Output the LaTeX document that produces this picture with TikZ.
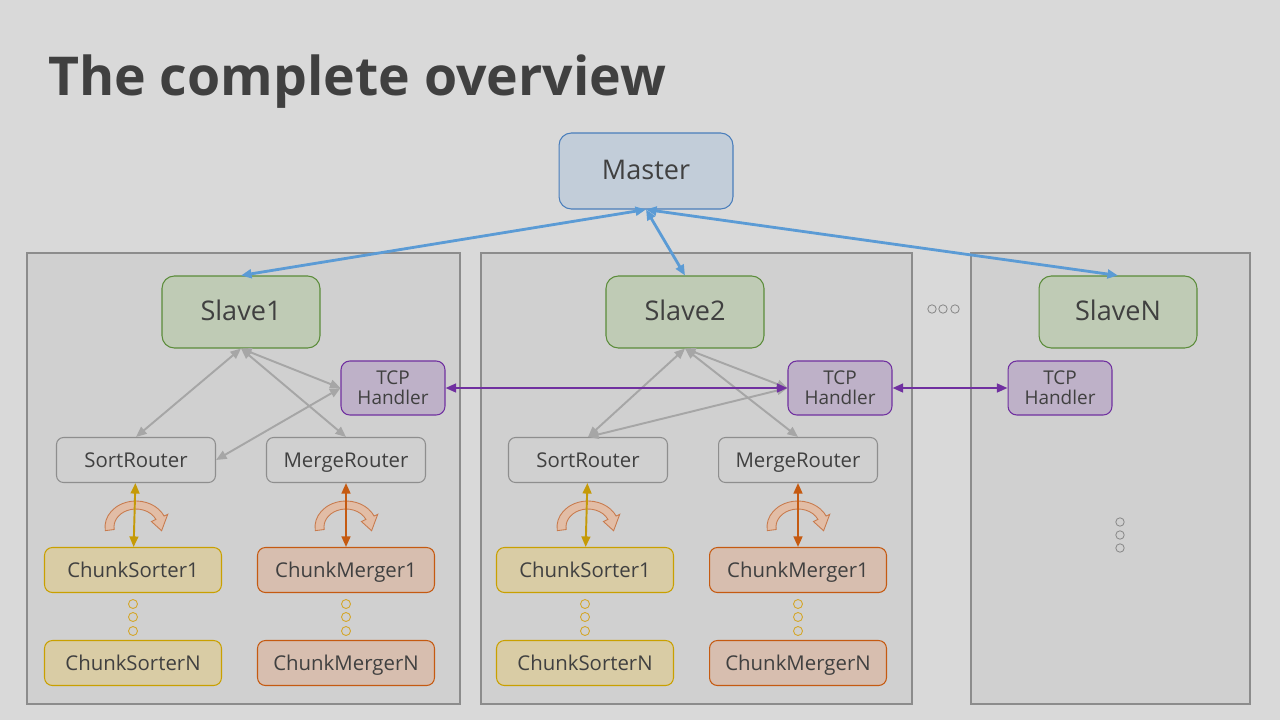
\documentclass[tikz,border=0pt]{standalone}
\usepackage{fontspec}
\setmainfont{Open Sans}
\usepackage{xcolor}
\usetikzlibrary{positioning,arrows.meta}

\definecolor{bgcol}{HTML}{D9D9D9}
\definecolor{panelfill}{HTML}{D0D0D0}
\definecolor{panelline}{HTML}{8C8C8C}
\definecolor{txt}{HTML}{404040}
\definecolor{masterfill}{HTML}{C2CDD9}
\definecolor{masterline}{HTML}{4A7EBB}
\definecolor{slavefill}{HTML}{BFCBB5}
\definecolor{slaveline}{HTML}{5B8C3A}
\definecolor{tcpfill}{HTML}{BEB1C8}
\definecolor{tcpline}{HTML}{7030A0}
\definecolor{routerline}{HTML}{8E8E8E}
\definecolor{sorterfill}{HTML}{D9CCA5}
\definecolor{sorterline}{HTML}{C9A000}
\definecolor{mergerfill}{HTML}{D7BEAF}
\definecolor{mergerline}{HTML}{C55A11}
\definecolor{bluearrow}{HTML}{5B9BD5}
\definecolor{grayarrow}{HTML}{A6A6A6}
\definecolor{goldarrow}{HTML}{C59A07}
\definecolor{dotline}{HTML}{D4A62A}
\definecolor{swapfill}{HTML}{E2BDA6}
\definecolor{swapline}{HTML}{C87B4E}

\tikzset{
    box/.style={draw, text=txt, align=center, line width=0.6pt, inner sep=0pt},
    oneline/.style={text height=1.55ex, text depth=0pt},
    master/.style={box, oneline, text height=1.75ex, fill=masterfill, draw=masterline, rounded corners=7pt,
        minimum width=3.48cm, minimum height=1.52cm, font=\fontsize{15.4}{18}\selectfont},
    slave/.style={box, oneline, text height=1.75ex, fill=slavefill, draw=slaveline, rounded corners=7pt,
        minimum width=3.16cm, minimum height=1.44cm, font=\fontsize{15.4}{18}\selectfont},
    tcp/.style={box, fill=tcpfill, draw=tcpline, rounded corners=5pt,
        minimum width=2.08cm, minimum height=1.08cm, font=\fontsize{10.8}{11.6}\selectfont},
    router/.style={box, oneline, fill=panelfill, draw=routerline, rounded corners=4pt,
        minimum width=3.18cm, minimum height=0.9cm, font=\fontsize{11.6}{13}\selectfont},
    sorter/.style={box, oneline, fill=sorterfill, draw=sorterline, rounded corners=4.5pt,
        minimum width=3.54cm, minimum height=0.9cm, font=\fontsize{11.6}{13}\selectfont},
    merger/.style={sorter, fill=mergerfill, draw=mergerline},
    panel/.style={fill=panelfill, draw=panelline, line width=0.6pt},
    link/.style={<->, line width=1.1pt, draw=grayarrow},
    dot/.style={draw=dotline, line width=0.5pt},
}

% curved swap arrow between router and its workers
\newcommand{\swaparrow}[1]{%
    \begin{scope}[shift={#1}, yscale=-1]
        \filldraw[fill=swapfill, draw=swapline, line width=0.5pt]
            (188:31 and 26) arc[start angle=188, end angle=25, x radius=31, y radius=26]
            -- (25:35 and 30) -- (-10:26 and 21.5) -- (25:17 and 13)
            -- (25:22 and 18) arc[start angle=25, end angle=188, x radius=22, y radius=18]
            -- cycle;
    \end{scope}}

\begin{document}
\begin{tikzpicture}[x=0.02cm, y=-0.02cm, >={Triangle[length=6pt,width=5pt]}]
    \fill[bgcol] (0,0) rectangle (1280,720);
    \useasboundingbox (0,0) rectangle (1280,720);
    \node[anchor=base west, text=txt, font=\fontsize{30.5}{34}\bfseries] (title) at (42,95) {The complete overview};

    % Slave panels
    \draw[panel] (27,253) rectangle (460,704);
    \draw[panel] (481,253) rectangle (912,704);
    \draw[panel] (971,253) rectangle (1250,704);

    % Master and slaves
    \node[master] (master) at (646,171) {Master};
    \node[slave] (slave1) at (241,312) {Slave1};
    \node[slave] (slave2) at (685,312) {Slave2};
    \node[slave] (slaveN) at (1118,312) {SlaveN};

    % TCP handlers
    \node[tcp] (tcp1) at (393,388) {TCP\\Handler};
    \node[tcp] (tcp2) at (840,388) {TCP\\Handler};
    \node[tcp] (tcpN) at (1060,388) {TCP\\Handler};

    % Routers and chunk workers
    \foreach \p/\sx/\mx in {1/136/346, 2/588/798} {
        \node[router] (sort\p) at (\sx,460) {SortRouter};
        \node[router] (merge\p) at (\mx,460) {MergeRouter};
        \node[sorter] (csortA\p) at (\sx-3,570) {ChunkSorter1};
        \node[sorter] (csortN\p) at (\sx-3,663) {ChunkSorterN};
        \node[merger] (cmergeA\p) at (\mx,570) {ChunkMerger1};
        \node[merger] (cmergeN\p) at (\mx,663) {ChunkMergerN};
        \foreach \y in {604,617,631} {
            \draw[dot] (\sx-3,\y) circle (4.5);
            \draw[dot] (\mx,\y) circle (4.5);
        }
        \swaparrow{(\sx,527)}
        \swaparrow{(\mx,527)}
        \draw[<->, line width=1.1pt, goldarrow] (sort\p) -- (csortA\p);
        \draw[<->, line width=1.1pt, mergerline] (merge\p) -- (cmergeA\p);
        \draw[link] (slave\p.south) -- (sort\p.north);
        \draw[link] (slave\p.south) -- (merge\p.north);
        \draw[link] (slave\p.south) -- (tcp\p.west);
    }
    \draw[link] (tcp1.west) -- (sort1.east);
    \draw[link] (tcp2.west) -- (sort2.north);

    % Ellipses
    \foreach \x in {932,943,955} \draw[panelline, line width=0.5pt] (\x,309) circle (4.2);
    \foreach \y in {522,535,548} \draw[panelline, line width=0.5pt] (1120,\y) circle (4.2);

    % Master links
    \draw[<->, line width=1.6pt, bluearrow] (master.south) -- (slave1.north);
    \draw[<->, line width=1.6pt, bluearrow] (master.south) -- (slave2.north);
    \draw[<->, line width=1.6pt, bluearrow] (master.south) -- (slaveN.north);

    % TCP links
    \draw[<->, line width=1.1pt, tcpline] (tcp1) -- (tcp2);
    \draw[<->, line width=1.1pt, tcpline] (tcp2) -- (tcpN);
\end{tikzpicture}
\end{document}
